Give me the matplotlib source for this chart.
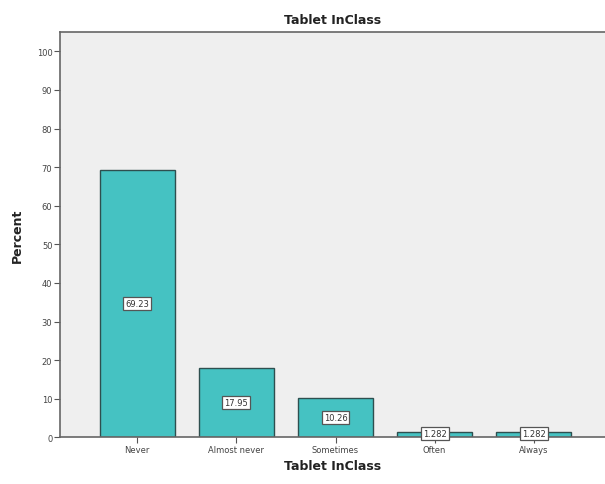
import matplotlib
matplotlib.use("Agg")
import matplotlib.pyplot as plt

categories = ["Never", "Almost never", "Sometimes", "Often", "Always"]
percents = [69.23, 17.95, 10.26, 1.282, 1.282]
label_texts = ["69.23", "17.95", "10.26", "1.282", "1.282"]
y_ticks = [0, 10, 20, 30, 40, 50, 60, 70, 80, 90, 100]

fig = plt.figure(figsize=(6.05, 4.85), dpi=100)
ax = fig.add_axes([0.0992, 0.0963, 0.9008, 0.8363])
ax.set_facecolor("#efefef")

x = list(range(len(categories)))
ax.bar(x, percents, width=0.755, color="#45c2c2", edgecolor="#2e4f4f",
       linewidth=1.0, zorder=2)

for xi, v, t in zip(x, percents, label_texts):
    ax.text(xi, max(v / 2, 1.0), t, ha="center", va="center", fontsize=6,
            color="#333333", zorder=3,
            bbox=dict(boxstyle="square,pad=0.25", facecolor="white",
                      edgecolor="#555555", linewidth=0.9))

ax.set_xlim(-0.779, 4.718)
ax.set_ylim(0, 105.1)
ax.set_xticks(x)
ax.set_xticklabels(categories)
ax.set_yticks(y_ticks)
ax.tick_params(axis="both", labelsize=6, labelcolor="#444444",
               color="#555555", length=4, width=0.8, direction="out", pad=1.5)

for side in ["left", "bottom", "top"]:
    ax.spines[side].set_color("#666666")
    ax.spines[side].set_linewidth(1.2)
ax.spines["right"].set_visible(False)

ax.set_title("Tablet InClass", fontsize=9, fontweight="bold", color="#222222",
             pad=6)
ax.set_xlabel("Tablet InClass", fontsize=9, fontweight="bold", color="#222222",
              labelpad=4)
ax.set_ylabel("Percent", fontsize=9, fontweight="bold", color="#222222",
              labelpad=9)

fig.savefig("out.png", dpi=100)
